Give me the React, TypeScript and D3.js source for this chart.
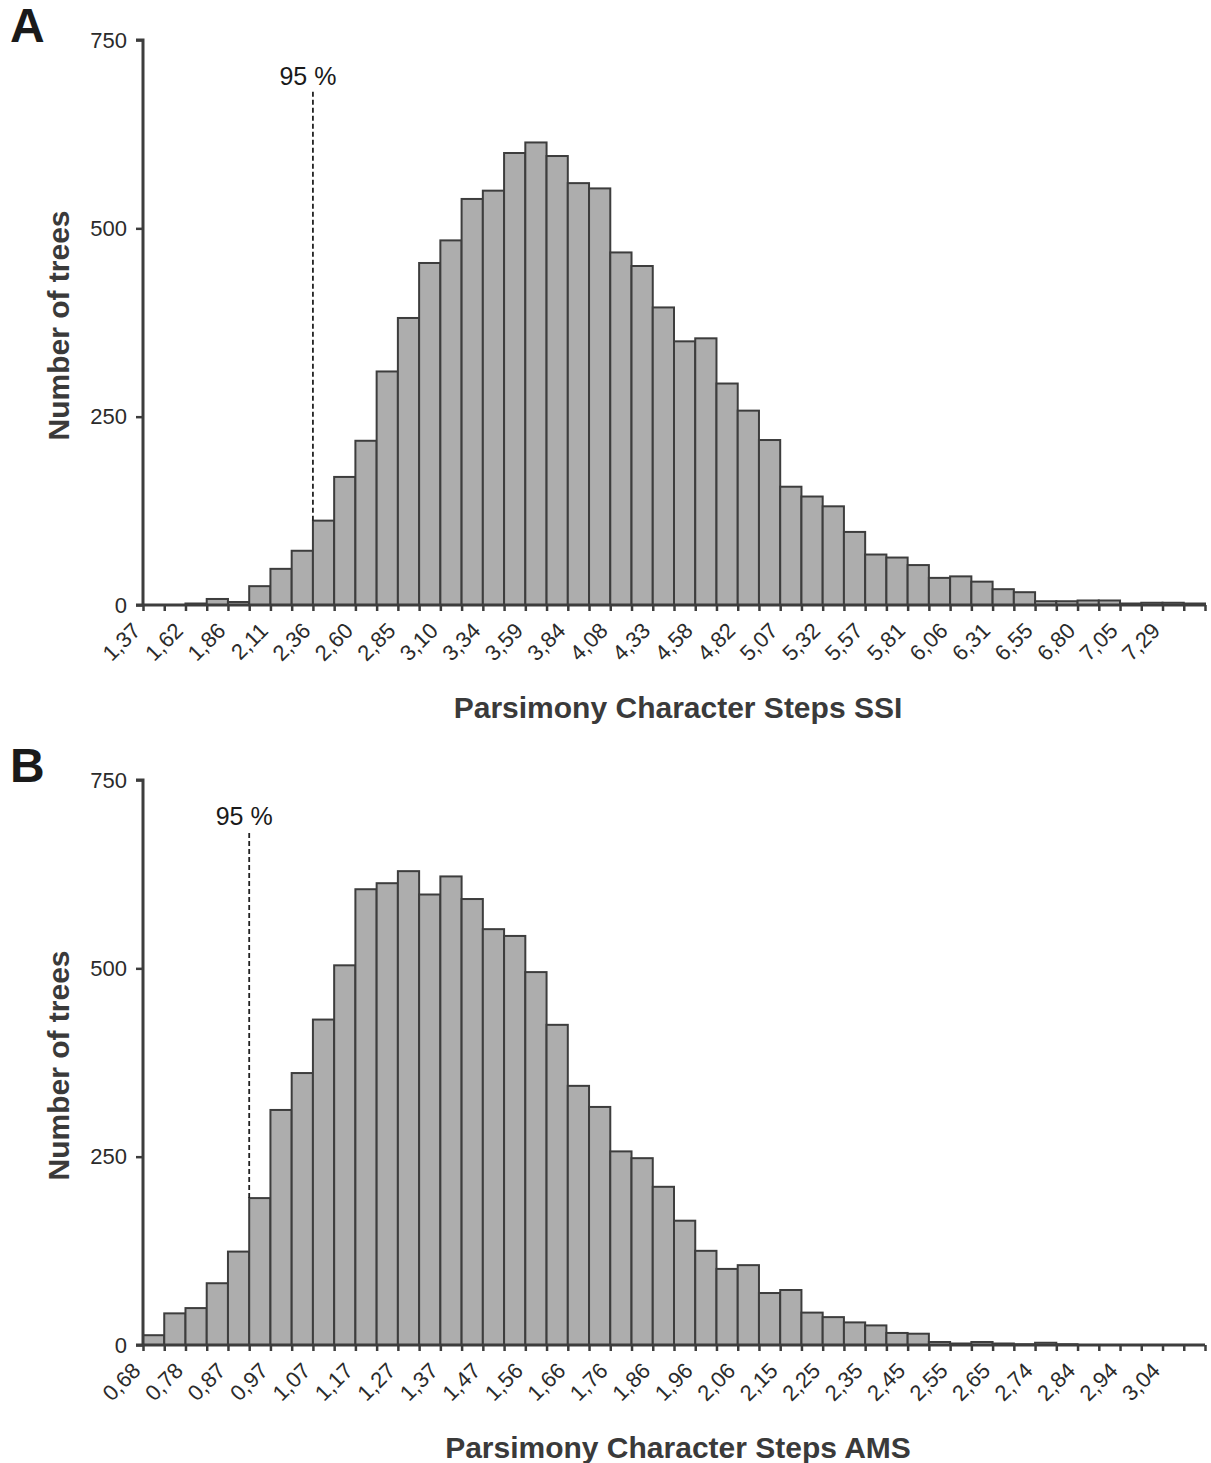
import React, { useRef, useEffect } from "react";
import * as d3 from "d3";

// panel A: parsimony character steps SSI
const ssiLabels = [
  "1,37", "1,62", "1,86", "2,11", "2,36", "2,60", "2,85", "3,10", "3,34",
  "3,59", "3,84", "4,08", "4,33", "4,58", "4,82", "5,07", "5,32", "5,57",
  "5,81", "6,06", "6,31", "6,55", "6,80", "7,05", "7,29",
];
const ssiCounts = [
  0, 0, 2, 8, 4, 25, 48, 72, 112, 170, 218, 310, 381, 454, 484, 539, 550,
  600, 614, 596, 560, 553, 468, 450, 395, 350, 354, 294, 258, 219, 157, 144,
  131, 97, 67, 63, 53, 36, 38, 31, 21, 17, 5, 5, 6, 6, 2, 3, 3, 2,
];
const ssiCutoffBin = 8;

// panel B: parsimony character steps AMS
const amsLabels = [
  "0,68", "0,78", "0,87", "0,97", "1,07", "1,17", "1,27", "1,37", "1,47",
  "1,56", "1,66", "1,76", "1,86", "1,96", "2,06", "2,15", "2,25", "2,35",
  "2,45", "2,55", "2,65", "2,74", "2,84", "2,94", "3,04",
];
const amsCounts = [
  13, 42, 49, 82, 124, 195, 312, 361, 432, 504, 605, 613, 629, 598, 622, 592,
  552, 543, 495, 425, 344, 316, 257, 248, 210, 165, 125, 101, 106, 69, 73, 43,
  37, 30, 26, 16, 15, 4, 2, 4, 2, 1, 3, 1, 0, 0, 0, 0, 0, 0,
];
const amsCutoffBin = 5;

const yTicks = [0, 250, 500, 750];
const cutoffLabel = "95 %";

const FONT = "'Liberation Sans', Arial, sans-serif";
const AXIS = "#3d3d3d";
const TEXT = "#2b2b2b";

function drawPanel(svg, opts) {
  const { top, letter, counts, labels, cutoff, title } = opts;
  const left = 143;
  const right = 1205;
  const y0 = top + 565;

  const x = d3.scaleLinear().domain([0, counts.length]).range([left, right]);
  const y = d3.scaleLinear().domain([0, 750]).range([y0, top]);

  const g = svg.append("g");

  // bars
  g.selectAll("rect.bar")
    .data(counts)
    .join("rect")
    .attr("class", "bar")
    .attr("x", (_, i) => x(i))
    .attr("y", (d) => y(d))
    .attr("width", x(1) - x(0))
    .attr("height", (d) => y0 - y(d))
    .attr("fill", "#adadad")
    .attr("stroke", AXIS)
    .attr("stroke-width", 2);

  // x axis
  const xAxis = d3
    .axisBottom(x)
    .tickValues(d3.range(0, counts.length + 1))
    .tickSize(6)
    .tickFormat(() => "");
  const xg = g.append("g").attr("transform", `translate(0,${y0})`).call(xAxis);
  xg.select(".domain")
    .attr("d", `M${left - 7},0H${right}`)
    .attr("stroke", AXIS)
    .attr("stroke-width", 3);
  xg.selectAll(".tick line").attr("stroke", AXIS).attr("stroke-width", 2.5);

  // rotated x labels, every second bin edge
  g.selectAll("text.xl")
    .data(labels)
    .join("text")
    .attr("class", "xl")
    .attr(
      "transform",
      (_, i) => `translate(${x(i * 2) - 1},${y0 + 27}) rotate(-45)`
    )
    .attr("text-anchor", "end")
    .attr("font-family", FONT)
    .attr("font-size", 22)
    .attr("fill", TEXT)
    .text((d) => d);

  // y axis
  const yAxis = d3.axisLeft(y).tickValues(yTicks).tickSize(7).tickPadding(9);
  const yg = g.append("g").attr("transform", `translate(${left},0)`).call(yAxis);
  yg.select(".domain")
    .attr("d", `M0,${y0}V${top}H-7`)
    .attr("stroke", AXIS)
    .attr("stroke-width", 3)
    .attr("fill", "none");
  yg.selectAll(".tick line").attr("stroke", AXIS).attr("stroke-width", 2.5);
  yg.selectAll(".tick text")
    .attr("font-family", FONT)
    .attr("font-size", 22)
    .attr("fill", TEXT);

  // 95% cutoff line
  const cx = x(cutoff);
  g.append("line")
    .attr("x1", cx)
    .attr("x2", cx)
    .attr("y1", y(counts[cutoff]))
    .attr("y2", top + 51)
    .attr("stroke", "#222")
    .attr("stroke-width", 1.8)
    .attr("stroke-dasharray", "5,3");
  g.append("text")
    .attr("x", cx - 5)
    .attr("y", top + 45)
    .attr("text-anchor", "middle")
    .attr("font-family", FONT)
    .attr("font-size", 25)
    .attr("fill", "#1a1a1a")
    .text(cutoffLabel);

  // titles
  g.append("text")
    .attr("x", 10)
    .attr("y", top + 2)
    .attr("font-family", FONT)
    .attr("font-weight", "bold")
    .attr("font-size", 48)
    .attr("fill", "#1a1a1a")
    .text(letter);

  g.append("text")
    .attr("transform", `translate(69,${(top + y0) / 2 + 3}) rotate(-90)`)
    .attr("text-anchor", "middle")
    .attr("font-family", FONT)
    .attr("font-weight", "bold")
    .attr("font-size", 30)
    .attr("fill", "#3a3a3a")
    .text("Number of trees");

  g.append("text")
    .attr("x", (left + right) / 2 + 4)
    .attr("y", y0 + 113)
    .attr("text-anchor", "middle")
    .attr("font-family", FONT)
    .attr("font-weight", "bold")
    .attr("font-size", 30)
    .attr("fill", "#3a3a3a")
    .text(title);
}

const App = () => {
  const svgRef = useRef(null);

  useEffect(() => {
    const svg = d3.select(svgRef.current);
    svg.selectAll("*").remove();
    svg.append("rect").attr("width", 1211).attr("height", 1463).attr("fill", "#fff");

    drawPanel(svg, {
      top: 40,
      letter: "A",
      counts: ssiCounts,
      labels: ssiLabels,
      cutoff: ssiCutoffBin,
      title: "Parsimony Character Steps SSI",
    });
    drawPanel(svg, {
      top: 780,
      letter: "B",
      counts: amsCounts,
      labels: amsLabels,
      cutoff: amsCutoffBin,
      title: "Parsimony Character Steps AMS",
    });
  }, []);

  return (
    <svg
      ref={svgRef}
      width={1211}
      height={1463}
      style={{ position: "absolute", left: 0, top: 0, display: "block" }}
    />
  );
};

export default App;
